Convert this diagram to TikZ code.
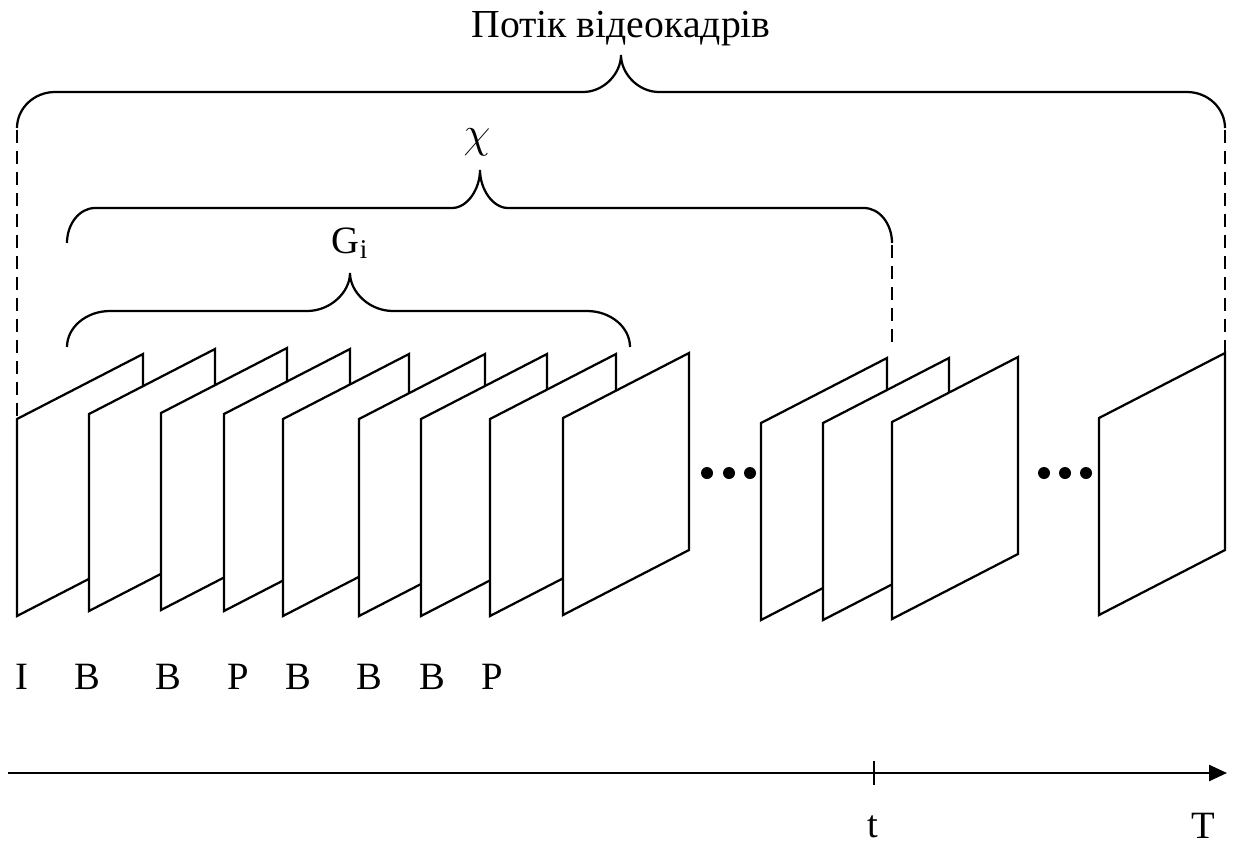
\documentclass[tikz,border=0pt]{standalone}
\usepackage{fontspec}
\setmainfont{Liberation Serif}
\usetikzlibrary{arrows.meta}

% curly brace: x left, x right, x tip, y ends, y bar, y tip, curl size
\newcommand{\curlybr}[7]{%
  \draw[brc] (#1,#4) .. controls (#1,{#5+0.45*(#4-#5)}) and ({#1+0.45*#7},#5) .. ({#1+#7},#5)
    -- ({#3-#7},#5) .. controls ({#3-0.45*#7},#5) and (#3,{#5-0.5*(#5-#6)}) .. (#3,#6)
    .. controls (#3,{#5-0.5*(#5-#6)}) and ({#3+0.45*#7},#5) .. ({#3+#7},#5)
    -- ({#2-#7},#5) .. controls ({#2-0.45*#7},#5) and (#2,{#5+0.45*(#4-#5)}) .. (#2,#4);}

\begin{document}
\begin{tikzpicture}[x=0.02cm, y=-0.02cm,
    vframe/.style={draw, fill=white, line width=0.045cm, line join=miter},
    brc/.style={line width=0.045cm},
    guide/.style={line width=0.045cm, dash pattern=on 0.26cm off 0.16cm},
    ftype/.style={anchor=base, font=\fontsize{22}{26}\selectfont},
    dot/.style={circle, fill, inner sep=0pt, minimum size=0.24cm}
  ]
  \useasboundingbox (0,0) rectangle (1234,846);

  % dashed guides
  \draw[guide] (17,130) -- (17,419);
  \draw[guide] (892,245) -- (892,345);
  \draw[guide] (1225,130) -- (1225,353);

  % the frames, back to front
  \foreach \x/\y in {17/616, 89/611, 161/610, 224/611, 283/616, 359/616, 421/616,
                     490/616, 563/615, 761/620, 823/620, 892/619, 1099/615}
    \draw[vframe] (\x,\y) -- ++(0,-197) -- ++(126,-65) -- ++(0,197) -- cycle;

  \foreach \x in {707,729,750,1044,1065,1086}
    \node[dot] (dot\x) at (\x,473) {};

  % braces
  \curlybr{17}{1225}{621}{128}{92}{55}{38}
  \curlybr{67}{892}{480}{243}{208}{170}{28}
  \curlybr{67}{630}{350}{347}{311}{273}{43}

  \node[ftype, font=\fontsize{22.6}{26}\selectfont] (stream) at (621,37) {Потік відеокадрів};
  \node[ftype, font=\fontsize{24}{28}\selectfont] (chi) at (477,147) {$\chi$};
  \node[ftype] (gop) at (350,253) {G\textsubscript{i}};

  % frame types
  \foreach \x/\f in {22/I, 87/B, 168/B, 238/P, 298/B, 369/B, 432/B, 492/P}
    \node[ftype] (type\x) at (\x,689) {\f};

  % time axis
  \coordinate (t0) at (8,773);
  \coordinate (tend) at (1227,773);
  \coordinate (tmark) at (874,773);
  \draw[line width=0.05cm, -{Triangle[length=0.36cm,width=0.32cm]}] (t0) -- (tend);
  \draw[line width=0.045cm] ([yshift=0.24cm]tmark) -- ([yshift=-0.24cm]tmark);
  \node[ftype] (tlab) at (873,837) {t};
  \node[ftype] (Tlab) at (1203,838) {T};
\end{tikzpicture}
\end{document}
